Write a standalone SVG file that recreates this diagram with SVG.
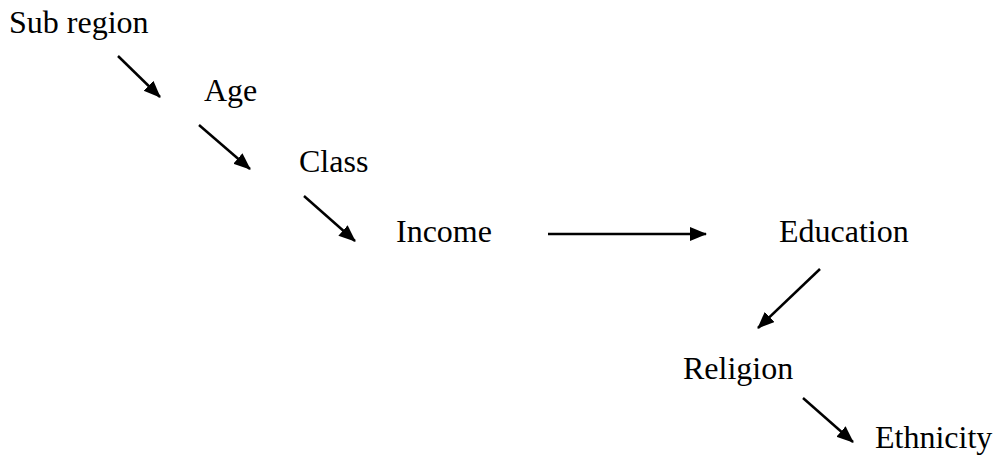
<svg xmlns="http://www.w3.org/2000/svg" width="994" height="455" viewBox="0 0 994 455">
<defs>
<marker id="ah" markerUnits="userSpaceOnUse" markerWidth="18" markerHeight="15" refX="16" refY="7" orient="auto">
<path d="M0,0 L17,7 L0,14 z" fill="#000"/>
</marker>
<style>
text{font-family:"Liberation Serif","Times New Roman",serif;font-size:32px;fill:#000}
.c line{stroke:#000;stroke-width:2.5;marker-end:url(#ah)}
</style>
</defs>
<rect width="994" height="455" fill="#fff"/>
<g id="subregion"><text x="9" y="33">Sub region</text></g>
<g id="age"><text x="204" y="101">Age</text></g>
<g id="class"><text x="299" y="172">Class</text></g>
<g id="income"><text x="396" y="242">Income</text></g>
<g id="education"><text x="779" y="242">Education</text></g>
<g id="religion"><text x="683" y="379">Religion</text></g>
<g id="ethnicity"><text x="875" y="448">Ethnicity</text></g>
<g class="c" id="connectors">
<line x1="118" y1="56" x2="160" y2="97"/>
<line x1="199" y1="125" x2="250" y2="169"/>
<line x1="304" y1="196" x2="355" y2="241"/>
<line x1="548" y1="234" x2="706" y2="234"/>
<line x1="820" y1="269" x2="758" y2="328"/>
<line x1="803" y1="398" x2="853" y2="442"/>
</g>
</svg>
